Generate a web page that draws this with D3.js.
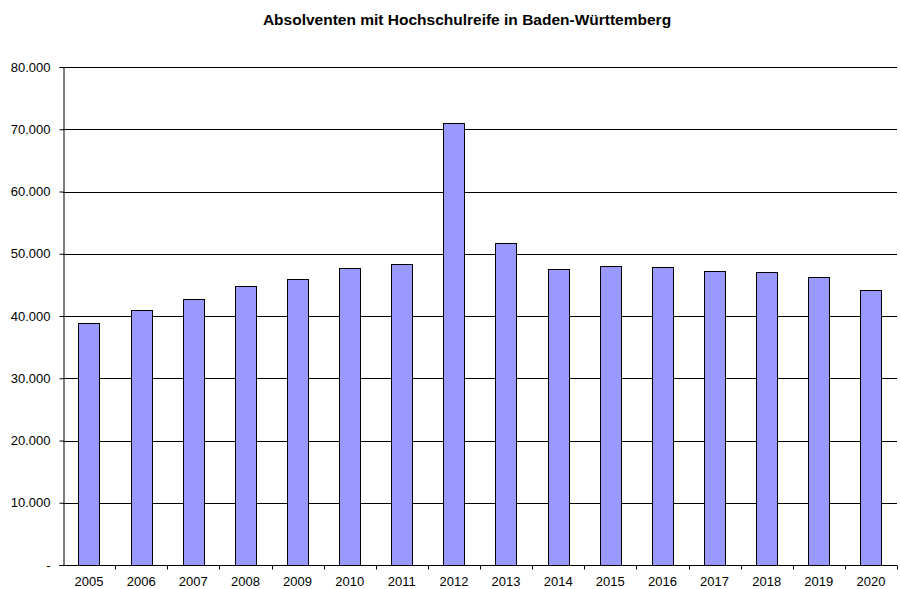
<!DOCTYPE html>
<html>
<head>
<meta charset="utf-8">
<script src="https://cdn.jsdelivr.net/npm/d3@7"></script>
<style>
  body { margin: 0; background: #fff; }
</style>
</head>
<body>
<div id="chart"></div>
<script>
// Data
const years = ["2005", "2006", "2007", "2008", "2009", "2010", "2011", "2012",
  "2013", "2014", "2015", "2016", "2017", "2018", "2019", "2020"];
const graduates = [38900, 41000, 42700, 44800, 45900, 47700, 48400, 70950,
  51650, 47500, 48100, 47850, 47200, 47100, 46300, 44100];
const yTicks = [0, 10000, 20000, 30000, 40000, 50000, 60000, 70000, 80000];

const width = 900;
const height = 589;
const margin = { top: 67, right: 3, bottom: 24, left: 63 };

const svg = d3.select("#chart")
  .append("svg")
  .attr("width", width)
  .attr("height", height)
  .style("font-family", "Arial, 'Liberation Sans', sans-serif");

const x = d3.scaleBand()
  .domain(years)
  .range([margin.left, width - margin.right])
  .paddingInner(0.59)
  .paddingOuter(0.295);

const band = d3.scaleBand()
  .domain(years)
  .range([margin.left, width - margin.right]);

const y = d3.scaleLinear()
  .domain([0, 80000])
  .range([height - margin.bottom, margin.top]);

const fmt = (v) => v === 0 ? "-" : d3.format(",")(v).replace(/,/g, ".");

// Gridlines
svg.append("g")
  .selectAll("line")
  .data(yTicks.filter((d) => d > 0))
  .join("line")
  .attr("x1", margin.left)
  .attr("x2", width - margin.right)
  .attr("y1", (d) => Math.round(y(d)) + 0.5)
  .attr("y2", (d) => Math.round(y(d)) + 0.5)
  .attr("stroke", "#000")
  .attr("stroke-width", 1);

// Bars
svg.append("g")
  .selectAll("rect")
  .data(years)
  .join("rect")
  .attr("x", (d) => Math.round(x(d)) + 0.5)
  .attr("y", (d, i) => Math.round(y(graduates[i])) + 0.5)
  .attr("width", Math.round(x.bandwidth()))
  .attr("height", (d, i) => Math.round(y(0)) - Math.round(y(graduates[i])))
  .attr("fill", "#9999ff")
  .attr("stroke", "#000")
  .attr("stroke-width", 1);

// Y axis
const yAxis = svg.append("g")
  .attr("transform", `translate(${margin.left + 0.5},0)`)
  .call(d3.axisLeft(y).tickValues(yTicks).tickFormat(fmt).tickSize(4).tickPadding(9));
yAxis.select(".domain").attr("stroke", "#000");
yAxis.selectAll(".tick line").attr("stroke", "#000");
yAxis.selectAll("text")
  .attr("fill", "#000")
  .style("font-size", "13px")
  .style("font-family", "Arial, 'Liberation Sans', sans-serif");

// X axis with ticks at category boundaries
const baseY = Math.round(y(0)) + 0.5;
svg.append("line")
  .attr("x1", margin.left)
  .attr("x2", width - margin.right)
  .attr("y1", baseY)
  .attr("y2", baseY)
  .attr("stroke", "#000");

svg.append("g")
  .selectAll("line")
  .data(years)
  .join("line")
  .attr("x1", (d) => Math.round(band(d) + band.bandwidth()) + 0.5)
  .attr("x2", (d) => Math.round(band(d) + band.bandwidth()) + 0.5)
  .attr("y1", baseY)
  .attr("y2", baseY + 4)
  .attr("stroke", "#000");

svg.append("g")
  .selectAll("text")
  .data(years)
  .join("text")
  .attr("x", (d) => band(d) + band.bandwidth() / 2)
  .attr("y", baseY + 20)
  .attr("text-anchor", "middle")
  .style("font-size", "13px")
  .attr("fill", "#000")
  .text((d) => d);

// Title
svg.append("text")
  .attr("x", 467)
  .attr("y", 25)
  .attr("text-anchor", "middle")
  .style("font-size", "15.5px")
  .style("font-weight", "700")
  .text("Absolventen mit Hochschulreife in Baden-Württemberg");
</script>
</body>
</html>
